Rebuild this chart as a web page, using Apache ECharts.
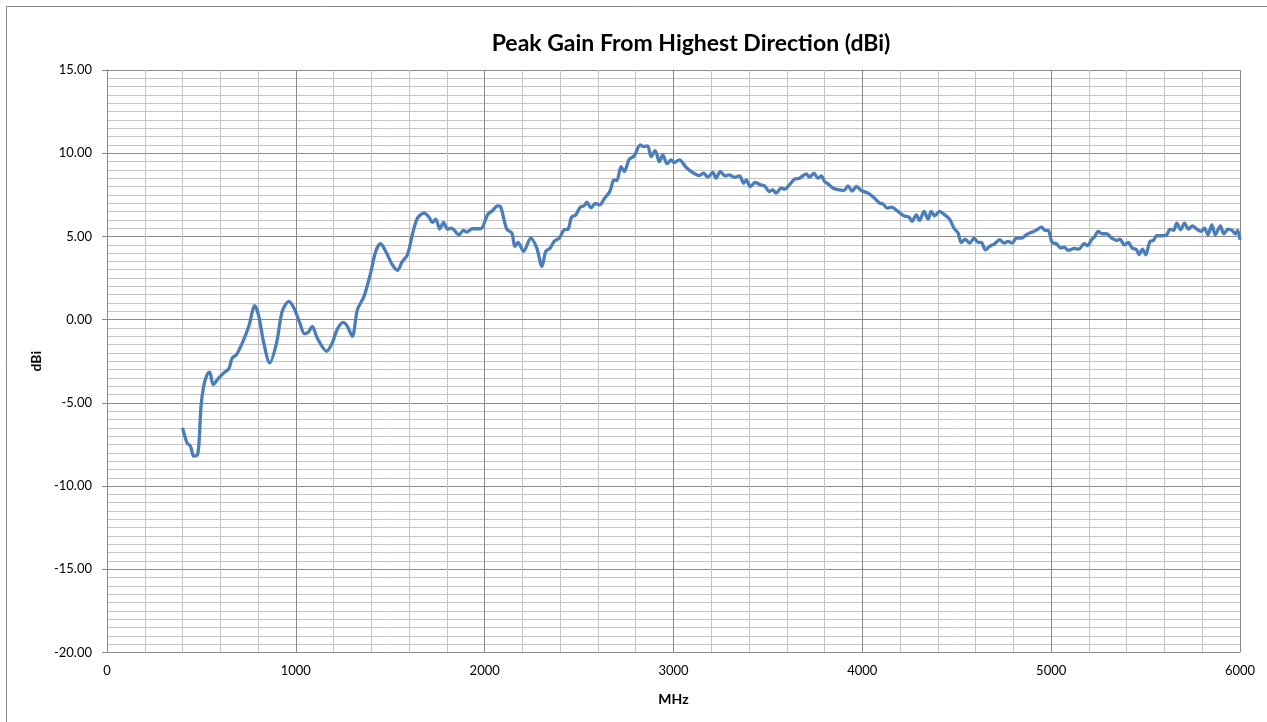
<!DOCTYPE html>
<html>
<head>
<meta charset="utf-8">
<script src="https://cdn.jsdelivr.net/npm/echarts@6/dist/echarts.min.js"></script>
<style>
  html, body { margin: 0; padding: 0; background: #fff; }
  #chart { width: 1267px; height: 722px; }
</style>
</head>
<body>
<div id="chart"></div>
<script>
// frequency (MHz) and peak gain (dBi)
var freqMHz = [
  400, 424, 442, 459, 477, 486, 498, 512, 530, 544, 562, 592, 618, 645, 663, 686, 724, 751, 783, 804,
  830, 862, 898, 928, 963, 990, 1021, 1046, 1066, 1087, 1113, 1163, 1193, 1220, 1251, 1273, 1299, 1326, 1361, 1396,
  1423, 1449, 1476, 1511, 1538, 1564, 1591, 1617, 1644, 1679, 1705, 1723, 1741, 1762, 1782, 1803, 1824, 1864, 1888, 1905,
  1935, 1979, 2015, 2042, 2068, 2085, 2117, 2144, 2160, 2177, 2206, 2244, 2276, 2303, 2324, 2347, 2368, 2395, 2421, 2442,
  2460, 2483, 2506, 2527, 2541, 2563, 2586, 2610, 2635, 2660, 2669, 2684, 2700, 2722, 2739, 2766, 2792, 2824, 2842, 2863,
  2881, 2903, 2925, 2943, 2966, 2987, 3004, 3031, 3066, 3102, 3137, 3160, 3181, 3208, 3225, 3248, 3273, 3296, 3323, 3349,
  3372, 3385, 3407, 3432, 3460, 3482, 3508, 3526, 3543, 3570, 3588, 3614, 3641, 3667, 3703, 3720, 3744, 3765, 3783, 3800,
  3818, 3845, 3880, 3903, 3924, 3946, 3969, 3995, 4030, 4065, 4092, 4109, 4132, 4153, 4189, 4220, 4247, 4263, 4286, 4303,
  4327, 4348, 4365, 4383, 4409, 4436, 4462, 4485, 4507, 4524, 4545, 4568, 4592, 4613, 4630, 4652, 4674, 4701, 4727, 4751,
  4772, 4793, 4816, 4843, 4869, 4899, 4922, 4949, 4966, 4984, 5005, 5028, 5051, 5069, 5090, 5122, 5146, 5175, 5192, 5214,
  5231, 5249, 5270, 5293, 5320, 5346, 5364, 5387, 5408, 5429, 5452, 5465, 5483, 5500, 5523, 5541, 5559, 5589, 5612, 5630,
  5648, 5665, 5686, 5706, 5727, 5748, 5771, 5794, 5812, 5830, 5851, 5869, 5896, 5914, 5937, 5958, 5976, 5988, 6000
];
var gainDBi = [
  -6.5, -7.4, -7.6, -8.2, -8.16, -7.6, -5.2, -4.0, -3.3, -3.16, -3.9, -3.5, -3.2, -2.96, -2.3, -2.1, -1.2, -0.4, 0.84, 0.2,
  -1.4, -2.6, -1.4, 0.5, 1.1, 0.7, -0.2, -0.84, -0.76, -0.4, -1.1, -1.9, -1.4, -0.56, -0.16, -0.4, -1.0, 0.6, 1.4, 2.8,
  4.1, 4.56, 4.1, 3.3, 2.96, 3.5, 3.9, 5.1, 6.1, 6.4, 6.16, 5.84, 6.04, 5.44, 5.84, 5.44, 5.5, 5.1, 5.36, 5.26,
  5.46, 5.46, 6.3, 6.56, 6.84, 6.76, 5.44, 5.2, 4.4, 4.64, 4.1, 4.9, 4.3, 3.2, 4.1, 4.3, 4.7, 4.9, 5.4, 5.44,
  6.16, 6.3, 6.76, 6.84, 7.06, 6.72, 6.98, 6.9, 7.3, 7.64, 7.9, 8.4, 8.36, 9.2, 8.9, 9.64, 9.84, 10.5, 10.4, 10.44,
  9.8, 10.16, 9.5, 9.9, 9.36, 9.6, 9.44, 9.6, 9.16, 8.84, 8.66, 8.8, 8.56, 8.84, 8.5, 8.9, 8.64, 8.7, 8.56, 8.64,
  8.2, 8.4, 8.0, 8.24, 8.1, 8.04, 7.7, 7.8, 7.6, 7.9, 7.84, 8.1, 8.44, 8.5, 8.76, 8.56, 8.8, 8.5, 8.64, 8.3,
  8.16, 7.9, 7.8, 7.76, 8.04, 7.72, 8.0, 7.76, 7.6, 7.3, 7.0, 6.96, 6.7, 6.76, 6.5, 6.24, 6.16, 5.9, 6.3, 5.96,
  6.5, 6.04, 6.5, 6.24, 6.5, 6.3, 6.04, 5.5, 5.2, 4.64, 4.84, 4.6, 4.9, 4.64, 4.64, 4.2, 4.4, 4.56, 4.8, 4.6,
  4.7, 4.6, 4.9, 4.9, 5.1, 5.26, 5.38, 5.56, 5.36, 5.36, 4.64, 4.56, 4.3, 4.36, 4.16, 4.28, 4.24, 4.56, 4.44, 4.8,
  5.0, 5.3, 5.16, 5.16, 4.9, 4.76, 4.84, 4.5, 4.64, 4.3, 4.2, 3.9, 4.24, 3.9, 4.7, 4.76, 5.04, 5.04, 5.1, 5.44,
  5.36, 5.8, 5.4, 5.8, 5.44, 5.64, 5.44, 5.3, 5.5, 5.1, 5.7, 5.1, 5.64, 5.16, 5.44, 5.36, 5.16, 5.36, 4.8
];

var points = freqMHz.map(function (f, i) { return [f, gainDBi[i]]; });

var myChart = echarts.init(document.getElementById('chart'));

var majorGrid = '#8a8a8a';
var minorGrid = '#c4c4c4';
var labelFont = 'Lato, "Open Sans", sans-serif';

var option = {
  animation: false,
  backgroundColor: '#ffffff',
  title: {
    text: 'Peak Gain From Highest Direction (dBi)',
    left: 686,
    top: 27,
    textAlign: 'center',
    textStyle: { fontFamily: labelFont, fontSize: 23, fontWeight: 'bold', color: '#000' }
  },
  graphic: [{
    type: 'rect',
    shape: { x: 6.5, y: 6.5, width: 1300, height: 800 },
    style: { fill: 'none', stroke: '#868686', lineWidth: 1 },
    silent: true
  }],
  grid: { left: 107, right: 27, top: 70, bottom: 69.5 },
  xAxis: {
    type: 'value',
    min: 0,
    max: 6000,
    interval: 1000,
    name: 'MHz',
    nameLocation: 'middle',
    nameGap: 40,
    nameTextStyle: { fontFamily: labelFont, fontSize: 14, fontWeight: 'bold', color: '#000' },
    axisLine: { show: true, lineStyle: { color: majorGrid } },
    axisTick: { show: true, length: 5, lineStyle: { color: majorGrid } },
    axisLabel: {
      fontFamily: labelFont, fontSize: 13, color: '#000', margin: 12,
      formatter: function (v) { return String(v); }
    },
    splitLine: { show: true, lineStyle: { color: majorGrid, width: 1 } },
    minorTick: { show: false, splitNumber: 5 },
    minorSplitLine: { show: true, lineStyle: { color: minorGrid, width: 1 } }
  },
  yAxis: {
    type: 'value',
    min: -20,
    max: 15,
    interval: 5,
    name: 'dBi',
    nameLocation: 'middle',
    nameGap: 64,
    nameRotate: 90,
    nameTextStyle: { fontFamily: labelFont, fontSize: 14, fontWeight: 'bold', color: '#000' },
    axisLine: { show: true, lineStyle: { color: majorGrid } },
    axisTick: { show: true, length: 5, lineStyle: { color: majorGrid } },
    axisLabel: {
      fontFamily: labelFont, fontSize: 13, color: '#000', margin: 15,
      formatter: function (v) { return v.toFixed(2); }
    },
    splitLine: { show: true, lineStyle: { color: majorGrid, width: 1 } },
    minorTick: { show: false, splitNumber: 10 },
    minorSplitLine: { show: true, lineStyle: { color: minorGrid, width: 1 } }
  },
  series: [{
    type: 'line',
    data: points,
    smooth: 0.3,
    showSymbol: false,
    lineStyle: { color: '#4a7ebb', width: 3.3 },
    z: 5
  }]
};

myChart.setOption(option);
</script>
</body>
</html>
